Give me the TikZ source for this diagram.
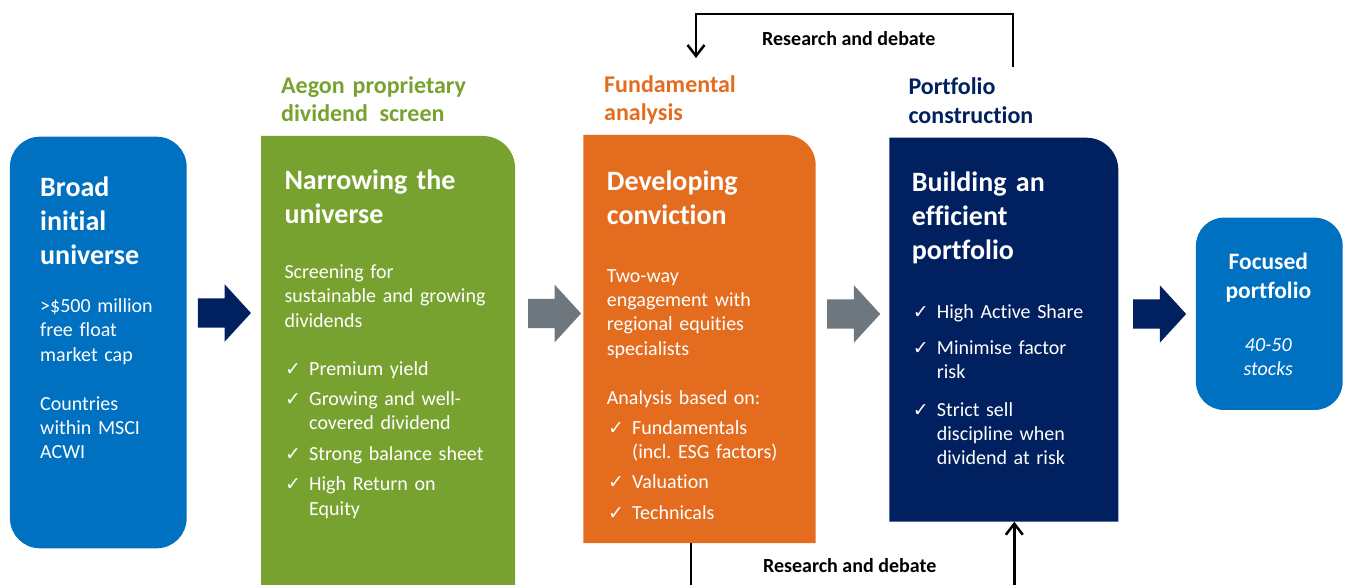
\documentclass[tikz,border=0pt]{standalone}
\usepackage{fontspec}
\setmainfont{Carlito}[Ligatures=NoCommon]
\newfontfamily\tickfont{DejaVu Sans}
\usetikzlibrary{shapes.arrows, arrows.meta}
\frenchspacing

\definecolor{univblue}{HTML}{0070C0}
\definecolor{leafgreen}{HTML}{78A22F}
\definecolor{convorange}{HTML}{E36C1F}
\definecolor{deepnavy}{HTML}{002060}
\definecolor{arrowgrey}{HTML}{6F777E}

% check mark in a fixed slot, wrapped lines hang under the text
\newcommand\tickbox{\makebox[24pt][l]{\tickfont\fontsize{19}{20}\selectfont ✓}}
\newcommand\tickitem[1]{\tickbox\parbox[t]{210pt}{\raggedright #1}}

\begin{document}
\begin{tikzpicture}[
        x=1pt, y=-1pt,
        stagebox/.style={rectangle, inner sep=0, outer sep=0},
        headtxt/.style={anchor=base west, inner sep=0, text=white, align=left, text width=230pt,
            font=\bfseries\fontsize{28}{34}\selectfont},
        bodytxt/.style={anchor=base west, inner sep=0, text=white, align=left, text width=230pt,
            font=\fontsize{20}{24.4}\selectfont},
        steplabel/.style={anchor=base west, inner sep=0, align=left, text width=220pt,
            font=\bfseries\fontsize{24}{28.5}\selectfont},
        blockarrow/.style={single arrow, inner xsep=0, inner ysep=14.5pt, minimum height=53pt, minimum width=57pt,
            single arrow head extend=14pt, single arrow tip angle=95},
        loopline/.style={line width=2.5pt, -{Straight Barb[length=11pt, width=17pt]}},
        looptxt/.style={anchor=base, inner sep=0, font=\bfseries\fontsize{20}{24}\selectfont}
    ]
        \useasboundingbox (0,0) rectangle (1348,585);

        % stage boxes
        \node[stagebox, fill=univblue, rounded corners=30pt, minimum width=176.7pt, minimum height=411.6pt] (universe) at (98.3, 342.5) {};
        \node[stagebox, minimum width=254pt, minimum height=449pt] (screen) at (388, 360.5) {};
        \node[stagebox, minimum width=232.4pt, minimum height=408pt] (convict) at (699.5, 339) {};
        \node[stagebox, minimum width=229pt, minimum height=384pt] (build) at (1003.8, 329.7) {};
        \node[stagebox, fill=univblue, rounded corners=28pt, minimum width=146.7pt, minimum height=192.3pt] (focus) at (1269.3, 313.8) {};

        % only the top right corner is rounded on the middle three
        \fill[leafgreen] (screen.south west) |- ([xshift=-32pt]screen.north east) arc[start angle=90, end angle=0, radius=32pt] |- (screen.south west);
        \fill[convorange] (convict.south west) |- ([xshift=-30pt]convict.north east) arc[start angle=90, end angle=0, radius=30pt] |- (convict.south west);
        \fill[deepnavy] (build.south west) |- ([xshift=-32pt]build.north east) arc[start angle=90, end angle=0, radius=32pt] |- (build.south west);

        % arrows between the stages
        \node[blockarrow, fill=deepnavy] (go1) at (217.7, 313) {};
        \node[blockarrow, fill=arrowgrey] (go2) at (547.8, 313.5) {};
        \node[blockarrow, fill=arrowgrey] (go3) at (847, 314) {};
        \node[blockarrow, fill=deepnavy] (go4) at (1152.9, 314) {};

        % stage titles
        \node[steplabel, text=leafgreen] (lab2) at (281, 93.3) {Aegon proprietary\\dividend\hspace{0.15em} screen};
        \node[steplabel, text=convorange] (lab3) at (604, 92.5) {Fundamental\\analysis};
        \node[steplabel, text=deepnavy] (lab4) at (908.3, 95) {Portfolio\\construction};

        % first box
        \node[headtxt] (h1) at (40, 197) {Broad\\initial\\universe};
        \node[bodytxt] (b1a) at (40, 312.5) {>\$500 million\\free float\\market cap};
        \node[bodytxt] (b1b) at (40, 410) {Countries\\within MSCI\\ACWI};

        % second box
        \node[headtxt] (h2) at (284.3, 190) {Narrowing the\\universe};
        \node[bodytxt] (b2) at (284.3, 278.3) {Screening for\\sustainable and growing\\dividends};
        \node[bodytxt] (i2a) at (285, 375) {\tickitem{Premium yield}};
        \node[bodytxt] (i2b) at (285, 405) {\tickitem{Growing and well-\\covered dividend}};
        \node[bodytxt] (i2c) at (285, 460) {\tickitem{Strong balance sheet}};
        \node[bodytxt] (i2d) at (285, 490.7) {\tickitem{High Return on\\Equity}};

        % third box
        \node[headtxt] (h3) at (606.7, 190.3) {Developing\\conviction};
        \node[bodytxt] (b3a) at (606.7, 282) {Two-way\\engagement with\\regional equities\\specialists};
        \node[bodytxt] (b3b) at (606.7, 404) {Analysis based on:};
        \node[bodytxt] (i3a) at (608, 434) {\tickitem{Fundamentals\\(incl. ESG factors)}};
        \node[bodytxt] (i3b) at (608, 488.8) {\tickitem{Valuation}};
        \node[bodytxt] (i3c) at (608, 519.8) {\tickitem{Technicals}};

        % fourth box
        \node[headtxt] (h4) at (911.7, 191.7) {Building an\\efficient\\portfolio};
        \node[bodytxt] (i4a) at (912.7, 318.3) {\tickitem{High Active Share}};
        \node[bodytxt] (i4b) at (912.7, 354.3) {\tickitem{Minimise factor\\risk}};
        \node[bodytxt] (i4c) at (912.7, 416) {\tickitem{Strict sell\\discipline when\\dividend at risk}};

        % last box
        \node[anchor=base, inner sep=0, text=white, align=center, text width=140pt,
            font=\bfseries\fontsize{23.5}{29}\selectfont] (h5) at (1268.3, 269.3) {Focused\\portfolio};
        \node[anchor=base, inner sep=0, text=white, align=center, text width=140pt,
            font=\itshape\fontsize{20}{23.3}\selectfont] (b5) at (1268.3, 351.7) {40-50\\stocks};

        % research and debate loops
        \coordinate (topstart) at (1013, 67);
        \coordinate (topend) at (696, 58);
        \coordinate (botend) at (1014.3, 590);
        \draw[loopline] (topstart) -- ++(0,-53) -| (topend);
        \draw[line width=2.5pt] ([xshift=-8.5pt]convict.south) -- ++(0,47);
        \draw[loopline] (botend) -- ([xshift=10.5pt]build.south);
        \node[looptxt] (rd1) at (848.8, 45.5) {Research and debate};
        \node[looptxt] (rd2) at (849.7, 572.8) {Research and debate};
    \end{tikzpicture}
\end{document}
